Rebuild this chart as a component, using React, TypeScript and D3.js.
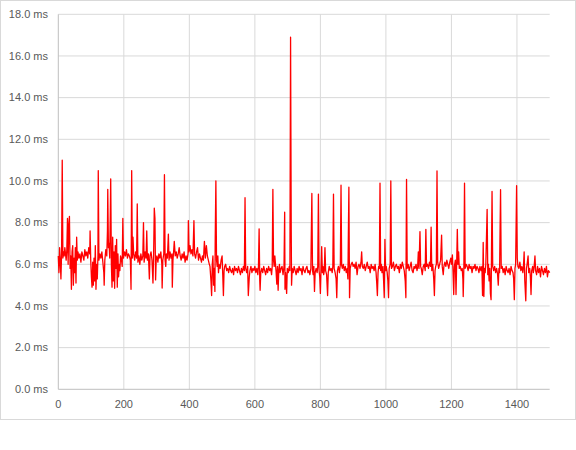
import React from "react";
import * as d3 from "d3";

const yTicks = [0, 2, 4, 6, 8, 10, 12, 14, 16, 18];
const xTicks = [0, 200, 400, 600, 800, 1000, 1200, 1400];

// [frame, ms] samples, split in five ranges
const framesA: [number, number][] = [
  [0,6.4],[2,5.6],[4,6.8],[6,6.2],[8,5.3],[10,6.5],[12,11.0],[14,6.3],[16,6.6],[18,6.4],[20,6.8],[22,6.5],[24,6.2],[26,6.7],[28,8.2],[30,6.0],[32,7.9],[34,8.3],[36,5.8],[38,6.4],[40,4.8],[42,6.6],[44,6.9],[46,5.0],[48,6.3],[50,5.6],[52,6.8],[54,5.1],[56,7.3],[58,6.2],[60,6.6],[63,6.3],[66,6.5],[69,6.1],[72,6.6],[75,6.4],[78,6.2],[81,6.7],[84,6.4],[87,6.6],[90,6.3],[93,6.8],[96,6.5],[97,7.6],[99,6.2],[101,5.4],[103,4.9],[105,6.1],[107,5.0],[109,6.3],[111,5.2],[113,6.9],[115,4.8],[117,6.0],[119,5.3],[121,6.4],[122,10.5],[124,6.2],[127,6.5],[130,6.3],[133,6.6],[136,6.1],[139,5.6],[140,5.0],[142,6.2],[145,6.7],[148,6.4],[150,7.6],[151,9.6],[153,6.8],[155,7.0],[157,6.3],[160,10.1],[162,6.0],[164,4.9],[166,7.3],[168,5.2],[170,6.6],[172,4.85],[174,6.9],[176,5.8],[178,7.2],[180,4.9],[182,6.5],[184,5.4],[186,6.0],[188,5.7],[190,6.4],[193,6.2],[195,5.9],[197,8.2],[199,6.3],[202,6.6],[205,6.4],[208,6.7],[211,6.3],[214,6.5],[217,6.4],[220,6.2],[222,4.8],[224,10.5],[226,6.3],[228,7.3],[230,6.5],[233,6.2],[236,6.6],[239,6.3],[241,8.9],[243,6.1],[246,6.4],[249,6.0],[252,6.5],[255,6.2],[258,6.4],[260,8.0],[262,6.1],[265,6.6],[268,6.3],[270,7.6],[272,6.2],[275,6.5],[278,5.3],[280,6.4],[283,6.6],[286,6.2],[289,5.1],[291,6.5],[293,8.7],[295,8.2],[297,5.25],[299,6.3]
];
const framesB: [number, number][] = [
  [301,6.4],[304,6.1],[307,6.5],[310,6.3],[313,6.6],[316,6.0],[317,4.86],[319,6.2],[322,6.5],[324,10.3],[326,6.2],[328,5.9],[330,6.5],[333,6.3],[336,7.45],[338,6.2],[341,6.6],[344,6.3],[347,6.5],[348,4.9],[350,6.2],[352,6.6],[354,7.1],[357,6.4],[360,6.6],[363,6.3],[366,6.5],[369,6.8],[372,6.4],[375,6.2],[378,6.5],[381,6.3],[384,6.6],[387,6.1],[390,6.4],[393,6.2],[396,6.5],[397,8.1],[399,6.6],[402,6.9],[405,6.5],[408,6.7],[411,6.4],[414,8.1],[416,6.5],[419,6.3],[422,6.6],[425,6.8],[428,6.2],[431,6.5],[434,6.3],[437,6.1],[440,6.4],[443,6.2],[446,7.1],[449,6.3],[452,6.9],[455,6.4],[458,6.2],[461,6.0],[463,5.9],[466,5.2],[468,4.5],[470,6.0],[472,6.4],[474,5.0],[476,5.8],[478,4.7],[479,7.2],[481,10.0],[483,6.2],[485,5.9],[487,6.4],[489,5.6],[491,6.0],[494,5.8],[497,6.2],[500,6.4],[502,5.5],[504,4.5],[506,5.7],[508,5.9],[511,6.0],[514,5.7],[517,5.8],[520,5.6],[523,5.9],[526,5.7],[529,5.6],[532,5.8],[535,5.5],[538,5.9],[541,5.7],[544,5.8],[547,5.6],[550,5.9],[553,5.7],[556,5.5],[559,5.8],[562,5.6],[565,5.9],[568,5.7],[570,9.2],[572,5.8],[575,5.6],[578,5.9],[580,4.5],[583,5.4],[585,5.7],[588,5.9],[591,5.6],[594,5.8],[597,5.7],[600,5.9]
];
const framesC: [number, number][] = [
  [603,5.6],[606,5.8],[609,5.5],[611,5.9],[613,7.7],[615,5.2],[616,4.75],[618,5.6],[621,5.8],[624,5.6],[627,5.9],[630,5.7],[633,5.5],[636,5.8],[639,5.6],[642,5.9],[645,5.7],[648,5.8],[651,5.5],[653,5.9],[655,9.6],[657,6.2],[659,5.9],[661,6.4],[663,6.0],[665,5.6],[667,5.05],[669,5.9],[671,4.75],[673,5.7],[675,6.0],[677,5.6],[680,5.8],[683,5.9],[686,5.5],[689,5.9],[691,8.5],[692,4.8],[694,5.6],[697,4.6],[699,5.8],[702,5.6],[705,5.9],[707,5.7],[709,16.9],[711,7.65],[712,5.0],[714,5.8],[717,5.6],[720,5.9],[723,5.7],[726,5.5],[729,5.8],[732,5.6],[735,5.9],[738,5.7],[741,5.8],[744,5.5],[747,5.9],[750,5.7],[753,5.6],[756,5.8],[759,5.9],[762,5.6],[765,5.7],[768,5.5],[771,5.8],[774,9.4],[776,5.7],[778,5.5],[780,5.9],[782,4.7],[784,5.6],[787,5.8],[790,5.6],[792,5.9],[794,9.37],[796,5.7],[798,5.4],[800,4.6],[802,5.8],[804,6.85],[806,5.6],[808,5.9],[810,5.5],[812,5.7],[814,6.8],[816,5.7],[819,5.5],[822,4.5],[824,5.6],[827,5.9],[830,5.7],[833,5.8],[836,5.6],[838,5.9],[840,9.37],[842,5.8],[845,5.6],[848,5.3],[850,4.4],[852,5.7],[855,5.9],[858,5.6],[861,6.0],[863,9.8],[865,5.95],[867,5.8],[870,6.0],[873,5.7],[876,5.9],[879,5.6],[882,5.8],[884,5.3],[887,9.7],[889,4.4],[891,5.8],[894,6.0],[897,6.1],[900,5.9]
];
const framesD: [number, number][] = [
  [903,6.0],[906,5.8],[909,6.1],[912,5.5],[915,5.9],[918,6.0],[921,5.8],[924,6.1],[926,6.6],[928,5.9],[931,5.8],[934,6.0],[937,5.7],[940,5.9],[943,6.1],[946,5.8],[949,5.9],[952,5.6],[955,6.0],[958,5.8],[961,5.9],[964,5.7],[967,6.0],[970,5.6],[972,5.1],[974,4.5],[976,5.6],[978,5.9],[980,5.8],[982,9.9],[984,5.7],[986,6.0],[988,5.6],[991,5.9],[993,5.2],[995,4.4],[997,7.2],[999,5.7],[1001,5.9],[1004,5.6],[1006,5.2],[1008,4.4],[1010,5.8],[1013,6.0],[1015,10.0],[1017,5.8],[1020,5.9],[1023,6.1],[1026,5.7],[1029,5.9],[1032,6.0],[1035,5.8],[1038,5.9],[1041,5.6],[1044,6.0],[1047,5.8],[1050,6.1],[1053,5.9],[1056,5.7],[1059,5.2],[1061,4.4],[1063,10.08],[1065,5.8],[1068,6.0],[1071,5.7],[1074,5.9],[1077,6.1],[1080,5.7],[1083,5.6],[1086,5.9],[1089,5.8],[1092,6.0],[1095,5.7],[1097,5.9],[1099,6.6],[1101,5.8],[1104,7.57],[1106,5.9],[1108,5.8],[1111,5.5],[1114,5.9],[1117,6.0],[1120,5.7],[1122,7.68],[1124,5.9],[1127,6.0],[1130,5.8],[1133,6.1],[1136,5.9],[1138,7.78],[1140,5.7],[1143,6.0],[1146,5.3],[1148,4.5],[1150,5.7],[1152,5.9],[1154,6.0],[1156,10.48],[1158,6.1],[1161,5.8],[1164,6.0],[1167,6.2],[1170,7.4],[1172,5.9],[1175,5.5],[1177,5.9],[1180,6.1],[1183,5.9],[1186,6.2],[1189,6.0],[1192,5.8],[1195,6.1],[1198,6.3],[1200,6.0]
];
const framesE: [number, number][] = [
  [1203,6.45],[1205,5.6],[1207,4.55],[1209,5.9],[1212,6.2],[1214,4.55],[1216,6.0],[1218,7.68],[1220,6.0],[1222,6.6],[1224,5.8],[1227,5.9],[1230,5.7],[1233,5.8],[1235,5.3],[1236,4.45],[1238,5.9],[1240,9.9],[1242,5.8],[1245,6.0],[1248,5.9],[1251,5.7],[1254,6.0],[1257,5.8],[1260,5.9],[1263,5.6],[1266,5.9],[1269,5.8],[1272,6.0],[1275,5.7],[1278,5.9],[1281,5.8],[1284,5.6],[1287,5.9],[1290,5.7],[1293,5.9],[1295,4.5],[1297,7.05],[1299,4.45],[1301,5.8],[1303,5.6],[1305,6.0],[1307,7.3],[1309,8.64],[1311,5.5],[1313,6.0],[1315,5.2],[1317,5.8],[1319,4.6],[1321,4.3],[1322,5.9],[1324,9.5],[1326,5.9],[1329,5.7],[1332,5.9],[1335,5.6],[1338,5.8],[1341,5.5],[1343,5.0],[1345,5.8],[1347,5.6],[1350,9.58],[1352,5.8],[1355,5.9],[1358,5.6],[1361,5.8],[1364,5.5],[1367,5.9],[1370,5.7],[1373,5.6],[1376,5.8],[1379,5.5],[1382,5.9],[1385,5.7],[1388,5.6],[1390,5.3],[1392,4.3],[1394,5.8],[1396,6.0],[1399,9.77],[1401,6.3],[1403,5.9],[1406,5.8],[1409,6.1],[1412,5.7],[1415,5.9],[1418,5.6],[1420,5.9],[1422,6.6],[1424,5.2],[1427,4.25],[1429,5.8],[1431,6.0],[1434,6.4],[1436,5.6],[1439,5.8],[1441,5.4],[1443,4.55],[1445,5.7],[1448,5.9],[1450,5.6],[1452,5.8],[1455,6.4],[1457,5.7],[1460,5.5],[1463,5.9],[1466,5.6],[1469,5.8],[1472,5.4],[1475,5.9],[1478,5.7],[1481,5.5],[1484,5.8],[1487,5.6],[1490,5.9],[1493,5.4],[1496,5.7],[1500,5.6]
];

const W = 576;
const H = 450;
const left = 58.3;
const right = 549.7;
const top = 14.3;
const bottom = 389.3;
const font = "'Liberation Sans', Arial, sans-serif";
const textColor = "#595959";

export default function App() {
  const data = [...framesA, ...framesB, ...framesC, ...framesD, ...framesE];
  const x = d3.scaleLinear().domain([0, 1500]).range([left, right]);
  const y = d3.scaleLinear().domain([0, 18]).range([bottom, top]);
  const line = d3
    .line<[number, number]>()
    .x((d) => x(d[0]))
    .y((d) => y(d[1]))
    .curve(d3.curveLinear);

  return (
    <svg
      width={W}
      height={H}
      style={{ position: "absolute", left: 0, top: 0, background: "#fff" }}
    >
      <rect x={0.5} y={0.5} width={575} height={419} fill="#fff" stroke="#d9d9d9" />
      {yTicks.filter((t) => t > 0).map((t) => (
        <line key={"gy" + t} x1={left} x2={right} y1={y(t)} y2={y(t)} stroke="#d9d9d9" strokeWidth={1} />
      ))}
      {xTicks.filter((t) => t > 0).map((t) => (
        <line key={"gx" + t} x1={x(t)} x2={x(t)} y1={top} y2={bottom} stroke="#d9d9d9" strokeWidth={1} />
      ))}
      <line x1={left} x2={left} y1={top} y2={bottom} stroke="#bfbfbf" strokeWidth={1} />
      <line x1={left} x2={right} y1={bottom} y2={bottom} stroke="#bfbfbf" strokeWidth={1} />
      {yTicks.map((t) => (
        <text
          key={"ty" + t}
          x={48}
          y={y(t)}
          dy="0.35em"
          textAnchor="end"
          fontFamily={font}
          fontSize={11}
          fill={textColor}
        >
          {t.toFixed(1) + " ms"}
        </text>
      ))}
      {xTicks.map((t) => (
        <text
          key={"tx" + t}
          x={x(t)}
          y={404}
          dy="0.35em"
          textAnchor="middle"
          fontFamily={font}
          fontSize={11}
          fill={textColor}
        >
          {t}
        </text>
      ))}
      <path d={line(data) || ""} fill="none" stroke="#ff0000" strokeWidth={1.3} strokeLinejoin="round" />
    </svg>
  );
}
